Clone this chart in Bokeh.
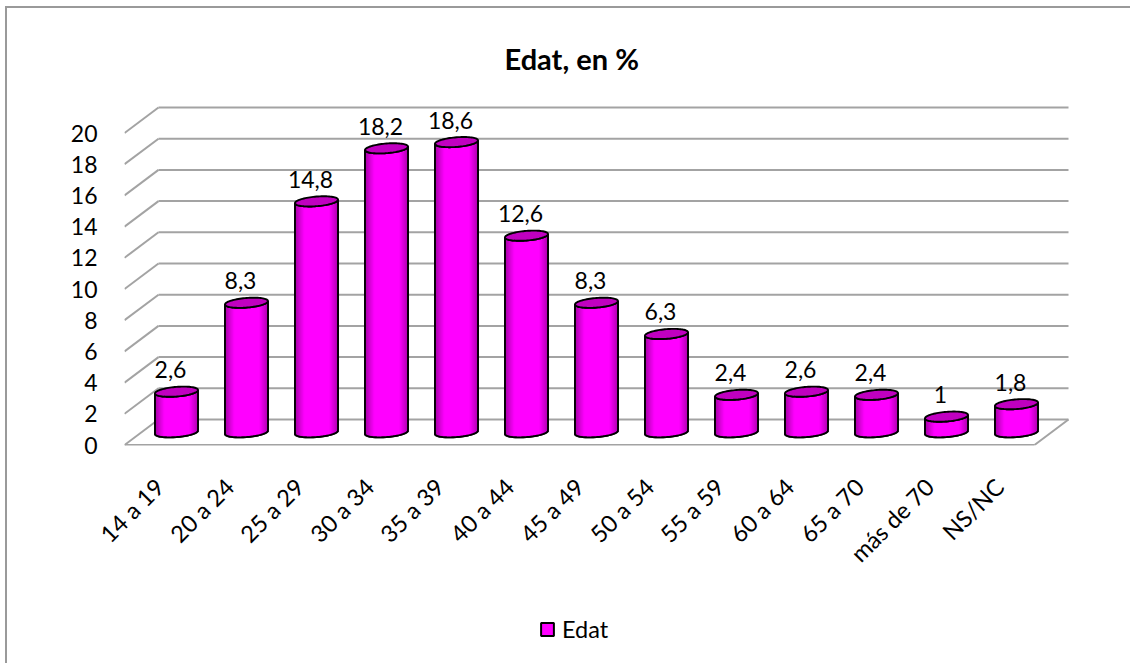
import math
from bokeh.plotting import figure
from bokeh.layouts import column
from bokeh.models import FixedTicker, Legend, LegendItem, Title, ColumnDataSource
from bokeh.core.properties import value
from bokeh.embed import file_html
from bokeh.resources import INLINE

categories = ["14 a 19", "20 a 24", "25 a 29", "30 a 34", "35 a 39", "40 a 44", "45 a 49",
              "50 a 54", "55 a 59", "60 a 64", "65 a 70", "más de 70", "NS/NC"]
values = [2.6, 8.3, 14.8, 18.2, 18.6, 12.6, 8.3, 6.3, 2.4, 2.6, 2.4, 1, 1.8]
y_ticks = [0, 2, 4, 6, 8, 10, 12, 14, 16, 18, 20]
series_name = "Edat"
chart_title = "Edat, en %"

FONT = "Lato"
PXX, PXY = 70.0, 15.6            # pixels per data unit
DX, DY = 34 / PXX, 25.5 / PXY    # depth of the 3D box in data units
A, B, K = 21.5 / PXX, 4.8 / PXY, 1.7 / PXY   # ellipse half-axes and tilt
GRID = "#a3a3a3"

OX, OY = 7, 8                    # where the canvas starts on the page
W, H = 1123, 602
LEG_H = 53
ML, MR, MT, MB = 124 - OX, OX + W - 1070, 100 - OY, OY + H - 445
fw, fh = W - ML - MR, H - MT - MB
y0 = -0.5 / PXY

p = figure(width=W, height=H, output_backend="svg", toolbar_location=None,
           x_range=(0, fw / PXX), y_range=(y0, y0 + fh / PXY),
           min_border_left=ML, min_border_right=MR, min_border_top=MT, min_border_bottom=MB,
           background_fill_color="white", border_fill_color="white", outline_line_color=None)
p.grid.visible = False

p.title = Title(text=chart_title, align="left", vertical_align="top", offset=380, standoff=46,
                text_font=FONT, text_font_size="29px", text_font_style="bold", text_color="black")

# axes
ax = p.yaxis[0]
ax.ticker = FixedTicker(ticks=y_ticks)
ax.axis_line_color = None
ax.major_tick_line_color = None
ax.minor_tick_line_color = None
ax.major_label_standoff = 21
ax.major_label_text_font = FONT
ax.major_label_text_font_size = "23px"
ax.major_label_text_color = "black"

bx = p.xaxis[0]
n = len(categories)
bx.ticker = FixedTicker(ticks=[i + 0.5 for i in range(n)])
bx.major_label_overrides = {i + 0.5: c for i, c in enumerate(categories)}
bx.axis_line_color = None
bx.major_tick_line_color = None
bx.minor_tick_line_color = None
bx.major_label_orientation = math.pi / 4
bx.major_label_standoff = 31
bx.major_label_text_font = FONT
bx.major_label_text_font_size = "23.5px"
bx.major_label_text_color = "black"

# 3D walls and floor
p.segment(x0=[DX] * len(y_ticks), y0=[v + DY for v in y_ticks],
          x1=[n + DX] * len(y_ticks), y1=[v + DY for v in y_ticks],
          line_color=GRID, line_width=2)
p.segment(x0=[0] * len(y_ticks), y0=y_ticks, x1=[DX] * len(y_ticks), y1=[v + DY for v in y_ticks],
          line_color=GRID, line_width=2)
p.segment(x0=[0, n], y0=[0, 0], x1=[n, n + DX], y1=[0, DY], line_color=GRID, line_width=2)


def lerp_color(t):
    c = int(round(0xA8 + (0xFF - 0xA8) * t))
    return "#%02x00%02x" % (c, c)


steps = 40
ts = [math.pi * k / steps for k in range(steps + 1)]
body_x, body_y, top_x, top_y, out_x, out_y = [], [], [], [], [], []
strip_x, strip_y, strip_c = [], [], []
for i, v in enumerate(values):
    xc = i + 0.5 + DX / 2
    yb = DY / 2
    yt = yb + v
    front = [(xc + A * math.cos(t), -B * math.sin(t) + K * math.cos(t)) for t in ts]   # right -> left
    back = [(xc + A * math.cos(t), B * math.sin(t) + K * math.cos(t)) for t in ts]
    xs = [q[0] for q in front] + [q[0] for q in reversed(front)]
    ys = [q[1] + yb for q in front] + [q[1] + yt for q in reversed(front)]
    body_x.append(xs)
    body_y.append(ys)
    for a, b in zip(front[:-1], front[1:]):
        mid = (a[0] + b[0]) / 2
        d = abs(mid - xc) / A
        shade = min(1.0, max(0.0, (1 - d) / 0.42))
        strip_x.append([a[0], b[0], b[0], a[0]])
        strip_y.append([a[1] + yb, b[1] + yb, b[1] + yt, a[1] + yt])
        strip_c.append(lerp_color(shade))
    out_x.append(xs + xs[:1])
    out_y.append(ys + ys[:1])
    top_x.append([q[0] for q in front] + [q[0] for q in reversed(back)])
    top_y.append([q[1] + yt for q in front] + [q[1] + yt for q in reversed(back)])

p.patches(body_x, body_y, fill_color="#ff00ff", line_color="black", line_width=2)
p.patches(strip_x, strip_y, fill_color=strip_c, line_color=strip_c, line_width=0.6)
p.multi_line(out_x, out_y, line_color="black", line_width=1.9)
p.patches(top_x, top_y, fill_color="#c000c0", line_color="black", line_width=1.9)

# data labels
src = ColumnDataSource(dict(x=[i + 0.5 + DX / 2 for i in range(n)],
                            y=[v + DY / 2 for v in values],
                            t=[str(v).replace(".", ",") for v in values]))
p.text("x", "y", text="t", source=src, x_offset=-6, y_offset=-22, text_align="center",
       text_baseline="middle", text_font=value(FONT), text_font_size="23px", text_color="black")

# legend lives in a strip under the chart; its key glyph sits outside the strip's range
leg = figure(width=W, height=LEG_H, output_backend="svg", toolbar_location=None,
             x_range=(0, 1), y_range=(0, 1),
             min_border_left=0, min_border_right=0, min_border_top=0, min_border_bottom=0,
             background_fill_color="white", border_fill_color="white", outline_line_color=None)
leg.axis.visible = False
leg.grid.visible = False
swatch = leg.quad(left=[n], right=[n + 1], top=[n + 1], bottom=[n], fill_color="#ff00ff",
                  line_color="black", line_width=2)
legend = Legend(items=[LegendItem(label=series_name, renderers=[swatch])],
                location=(415, 20), orientation="horizontal",
                background_fill_alpha=0, border_line_color=None, padding=0, margin=0,
                glyph_width=16, glyph_height=16, label_standoff=7,
                label_text_font=FONT, label_text_font_size="23.5px", label_text_color="black")
leg.add_layout(legend, "center")

page = column(p, leg, spacing=0)
page.styles = {"margin-left": "5px", "margin-top": "6px", "box-sizing": "content-box",
               "border-left": "2px solid #9a9a9a", "border-top": "2px solid #9a9a9a"}

open("out.html", "w").write(file_html(page, INLINE))
